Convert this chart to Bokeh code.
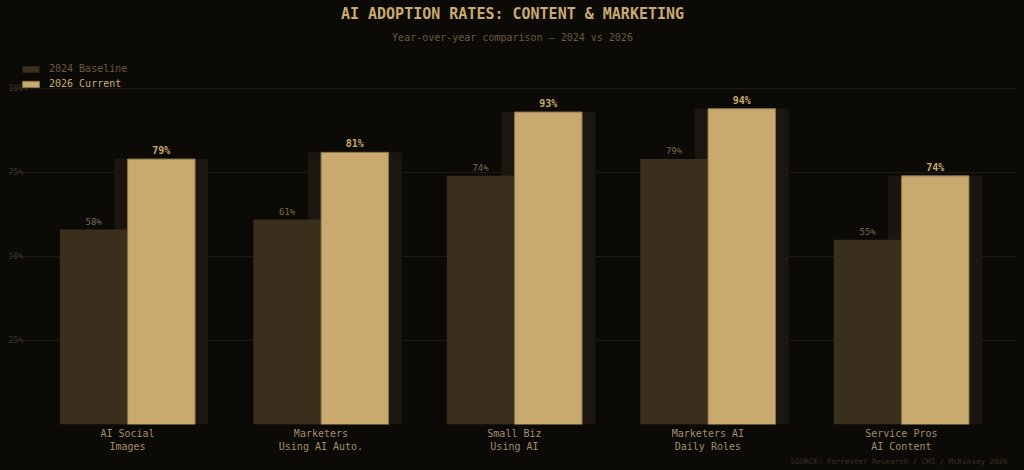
from bokeh.plotting import figure
from bokeh.models import (ColumnDataSource, Range1d, FixedTicker, Legend, LegendItem, Label, Title)
from bokeh.core.properties import value
from bokeh.embed import file_html
from bokeh.resources import INLINE

# ---- data ----
categories = ["AI Social\nImages", "Marketers\nUsing AI Auto.", "Small Biz\nUsing AI",
              "Marketers AI\nDaily Roles", "Service Pros\nAI Content"]
baseline_2024 = [58, 61, 74, 79, 55]
current_2026 = [79, 81, 93, 94, 74]
y_ticks = [25, 50, 75, 100]
y_tick_labels = ["25%", "50%", "75%", "100%"]
title_text = "AI ADOPTION RATES: CONTENT & MARKETING"
subtitle_text = "Year-over-year comparison \u2014 2024 vs 2026"
source_text = "SOURCE: Forrester Research / CMI / McKinsey 2026"

FONT = "DejaVu Sans Mono"
BG = "#0c0a07"
GRID = "#1e1a14"
DARK = "#3a2e1d"
LIGHT = "#c8a96e"
LIGHT_LINE = "#8a7048"
SHADOW = "#1b1710"
TITLE_C = "#c9aa70"
SUB_C = "#6b5a3d"

idx = list(range(len(categories)))
bw = 0.349
off = 0.175

src = ColumnDataSource(dict(
    xd=[i - off for i in idx],
    xl=[i + off for i in idx],
    v24=baseline_2024,
    v26=current_2026,
    t24=[f"{v}%" for v in baseline_2024],
    t26=[f"{v}%" for v in current_2026],
))

p = figure(width=1024, height=470, output_backend="svg", toolbar_location=None,
           x_range=Range1d(-0.615, 4.595), y_range=Range1d(0, 126.19),
           min_border_left=8, min_border_right=8, min_border_top=0, min_border_bottom=46,
           background_fill_color=BG, border_fill_color=BG)
p.outline_line_color = None
p.outline_line_alpha = 0

p.yaxis.visible = False
p.xgrid.visible = False
p.ygrid.ticker = FixedTicker(ticks=y_ticks)
p.ygrid.grid_line_color = GRID
p.ygrid.grid_line_width = 1

xa = p.xaxis[0]
xa.ticker = FixedTicker(ticks=idx)
xa.major_label_overrides = {i: c for i, c in zip(idx, categories)}
xa.axis_line_color = None
xa.major_tick_line_color = None
xa.minor_tick_line_color = None
xa.major_tick_out = 0
xa.major_tick_in = 0
xa.major_label_standoff = 3
xa.major_label_text_font = FONT
xa.major_label_text_font_size = "10px"
xa.major_label_text_color = "#a28d6a"

# shadow glow behind current bars
p.vbar(x="xl", top="v26", width=0.486, bottom=0, source=src, fill_color=SHADOW, line_color=None)
r24 = p.vbar(x="xd", top="v24", width=bw, bottom=0, source=src, fill_color=DARK, line_color=None)
r26 = p.vbar(x="xl", top="v26", width=bw, bottom=0, source=src, fill_color=LIGHT,
             line_color=LIGHT_LINE, line_width=1)

p.text(x="xd", y="v24", text="t24", source=src, text_font=value(FONT), text_font_size="9px",
       text_color="#7a6848", text_align="center", text_baseline="bottom", y_offset=-3)
p.text(x="xl", y="v26", text="t26", source=src, text_font=value(FONT), text_font_size="10px",
       text_font_style="bold", text_color=TITLE_C, text_align="center", text_baseline="bottom",
       y_offset=-3)

ysrc = ColumnDataSource(dict(x=[-0.615] * len(y_ticks), y=y_ticks, t=y_tick_labels))
p.text(x="x", y="y", text="t", source=ysrc, text_font=value(FONT), text_font_size="8px",
       text_color="#3d3426", text_align="left", text_baseline="middle")

# legends
leg1 = Legend(items=[LegendItem(label="2024 Baseline", renderers=[r24])], location=(12, 350),
              padding=0, margin=0, spacing=0, glyph_width=21, glyph_height=8, label_height=8,
              label_standoff=8, label_text_font=FONT, label_text_font_size="10px",
              label_text_color=SUB_C, background_fill_alpha=0, border_line_alpha=0)
leg2 = Legend(items=[LegendItem(label="2026 Current", renderers=[r26])], location=(12, 335),
              padding=0, margin=0, spacing=0, glyph_width=21, glyph_height=8, label_height=8,
              label_standoff=8, label_text_font=FONT, label_text_font_size="10px",
              label_text_color=TITLE_C, background_fill_alpha=0, border_line_alpha=0)
p.add_layout(leg1, "center")
p.add_layout(leg2, "center")

# titles (inside the frame area, which spans the top of the canvas)
p.add_layout(Label(x=504, y=411, x_units="screen", y_units="screen", text=title_text,
                   text_font=FONT, text_font_size="15px", text_font_style="bold",
                   text_color=TITLE_C, text_align="center", text_baseline="middle"))
p.add_layout(Label(x=504, y=387, x_units="screen", y_units="screen", text=subtitle_text,
                   text_font=FONT, text_font_size="10px", text_color=SUB_C,
                   text_align="center", text_baseline="middle"))
p.add_layout(Title(text=source_text, align="right", text_font=FONT, text_font_size="7.5px",
                   text_font_style="normal", text_color="#3a3022", standoff=0, offset=9),
             "below")

html = file_html(p, INLINE)
html = html.replace("<head>", "<head><style>html,body{background:#0c0a07;margin:0;padding:0;}</style>", 1)
open("out.html", "w").write(html)
